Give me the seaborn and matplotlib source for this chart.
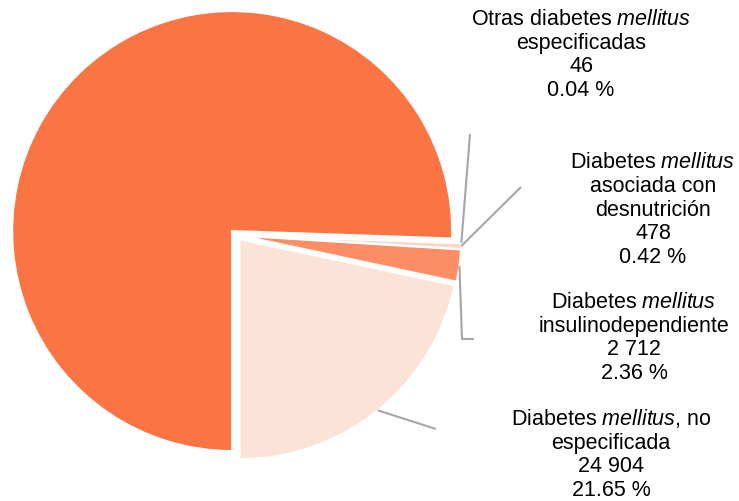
import numpy as np
import matplotlib
matplotlib.use("Agg")
import matplotlib.pyplot as plt
import seaborn as sns

# data (counter-clockwise from the bottom)
categories = [
    "Diabetes mellitus, no especificada",
    "Diabetes mellitus insulinodependiente",
    "Diabetes mellitus asociada con desnutrición",
    "Otras diabetes mellitus especificadas",
    "Diabetes mellitus no insulinodependiente",
]
values = [24904, 2712, 478, 46, 86890]
colors = ["#FCE3D7", "#FC8D64", "#FDD3C2", "#F8A98C", "#FA7444"]
label_titles = [
    "Diabetes $\\mathit{mellitus}$, no\nespecificada",
    "Diabetes $\\mathit{mellitus}$\ninsulinodependiente",
    "Diabetes $\\mathit{mellitus}$\nasociada con\ndesnutrición",
    "Otras diabetes $\\mathit{mellitus}$\nespecificadas",
    None,
]

sns.set_theme(style="white")
plt.rcParams["font.family"] = ["Liberation Sans", "DejaVu Sans"]
plt.rcParams["mathtext.fontset"] = "custom"
plt.rcParams["mathtext.rm"] = "Liberation Sans"
plt.rcParams["mathtext.it"] = "Liberation Sans:italic"

W, H = 739, 502
fig = plt.figure(figsize=(W / 100, H / 100), dpi=100)
ax = fig.add_axes([0, 0, 1, 1])

cx, cy, R = 236, H - 236, 220
explode = [5.5, 5.5, 5.5, 5.5, 5.5]  # pixels (data units)
wedges, _ = ax.pie(values, colors=colors, startangle=-90, counterclock=True,
                   radius=R, center=(cx, cy), explode=explode,
                   wedgeprops=dict(edgecolor="white", linewidth=1.5))
ax.set_xlim(0, W)
ax.set_ylim(0, H)
ax.set_aspect("equal")
ax.axis("off")

total = sum(values)
# text block centres and leader-line end points (image pixels, y down)
text_pos = [(611, 454), (634, 338), (653, 210), (581, 55)]
line_end = [[(436, 430)], [(462, 340), (474, 340)], [(521, 188)], [(470, 135)]]
for i in range(4):
    w = wedges[i]
    mid = np.deg2rad((w.theta1 + w.theta2) / 2)
    ox, oy = w.center
    sx, sy = ox + R * np.cos(mid), oy + R * np.sin(mid)
    xs = [sx] + [p[0] for p in line_end[i]]
    ys = [sy] + [H - p[1] for p in line_end[i]]
    ax.plot(xs, ys, color="#A6A6A6", lw=1.5, solid_capstyle="butt")
    num = f"{values[i]:,}".replace(",", " ")
    pct = f"{values[i] / total * 100:.2f} %"
    tx, ty = text_pos[i]
    ax.text(tx, H - ty, f"{label_titles[i]}\n{num}\n{pct}", ha="center", va="center",
            multialignment="center", fontsize=15.5, color="#000000", linespacing=1.18)

fig.savefig("out.png", dpi=100)
